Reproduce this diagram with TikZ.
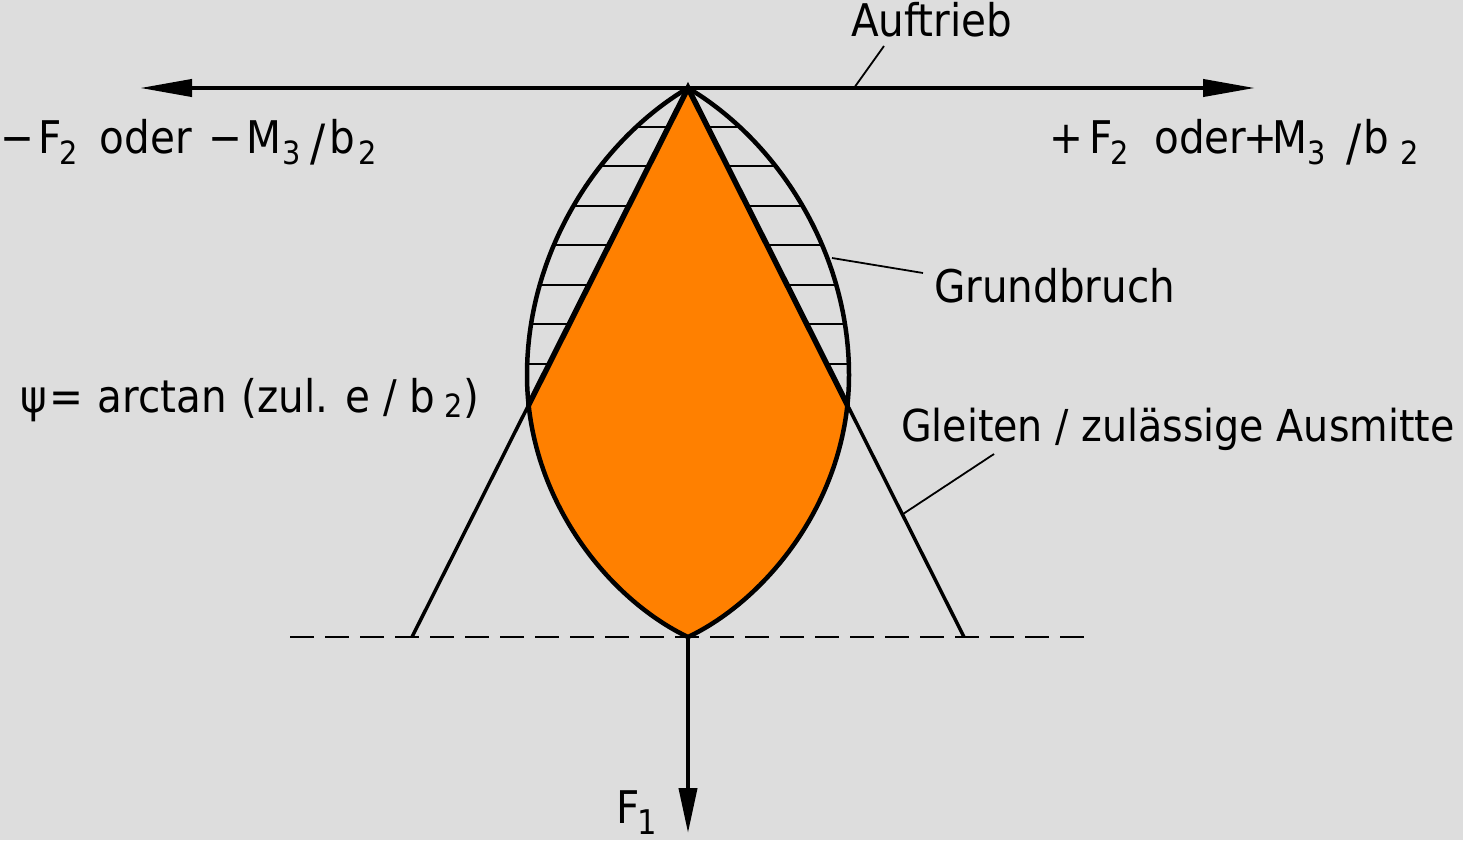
\documentclass[tikz,border=0pt]{standalone}
\usepackage{fontspec}
\setmainfont{DejaVu Sans Condensed}
\usetikzlibrary{arrows.meta}
\definecolor{bg}{HTML}{DDDDDD}
\definecolor{lensorange}{HTML}{FF8000}
\newcommand{\putat}[2]{\makebox[0pt][l]{\hspace*{#1pt}#2}}
\newcommand{\subd}[1]{\raisebox{-12pt}{\fontsize{32}{32}\selectfont #1}}
\newcommand{\bigsl}{\raisebox{-8pt}{\fontsize{50}{50}\selectfont /}}
\begin{document}
\begin{tikzpicture}[x=1pt,y=-1pt,
  lbl/.style={anchor=base west,inner sep=0pt,outer sep=0pt,font=\fontsize{45}{50}\selectfont},
  lensline/.style={line width=4.5pt,line join=round},
  triline/.style={line width=5.5pt,line cap=round},
  triouter/.style={line width=3.5pt},
  hatchline/.style={line width=1.8pt},
  leader/.style={line width=1.8pt},
  dashline/.style={line width=1.5pt,dash pattern=on 24pt off 11pt},
  forcearrow/.style={line width=4pt}]
\useasboundingbox (0,0) rectangle (1463,840);
\fill[bg] (0,0) rectangle (1463,840);

% key points
\coordinate (A) at (688,88);
\coordinate (B) at (688,637);
\coordinate (ML) at (527,375);
\coordinate (MR) at (849,375);
\coordinate (PL) at (528.6,405);
\coordinate (PR) at (847.4,405);
\coordinate (TL) at (412,637);
\coordinate (TR) at (964,637);

% hatching inside the lens
\begin{scope}
  \clip (A) .. controls (600,140) and (527,250) .. (ML)
            .. controls (527,500) and (610,600) .. (B)
            .. controls (766,600) and (849,500) .. (MR)
            .. controls (849,250) and (776,140) .. (A) -- cycle;
  \foreach \yy in {127,166,206,245,285,324,364}
    \draw[hatchline] (500,\yy) -- (880,\yy);
\end{scope}

% orange region: lens clipped by triangle
\begin{scope}
  \clip (A) -- (TL) -- (TR) -- cycle;
  \fill[lensorange] (A) .. controls (600,140) and (527,250) .. (ML)
            .. controls (527,500) and (610,600) .. (B)
            .. controls (766,600) and (849,500) .. (MR)
            .. controls (849,250) and (776,140) .. (A) -- cycle;
\end{scope}

% dashed base line
\coordinate (DL) at (290,637);
\coordinate (DR) at (1085,637);
\draw[dashline] (DL) -- (DR);

% lens outline
\draw[lensline] (A) .. controls (600,140) and (527,250) .. (ML)
            .. controls (527,500) and (610,600) .. (B)
            .. controls (766,600) and (849,500) .. (MR)
            .. controls (849,250) and (776,140) .. (A) -- cycle;

% triangle lines
\draw[triline] (PL) -- (A) -- (PR);
\draw[triouter] (PL) -- (TL);
\draw[triouter] (PR) -- (TR);

% horizontal arrow
\coordinate (HL) at (140,88);
\coordinate (HR) at (1255,88);
\draw[forcearrow,{Triangle[length=52pt,width=17pt]}-{Triangle[length=52pt,width=17pt]}] (HL) -- (HR);

% vertical arrow
\coordinate (VE) at (688,833);
\draw[forcearrow,-{Triangle[length=45pt,width=18pt]}] (B) -- (VE);

% leader lines
\coordinate (auA) at (854,88);
\coordinate (auB) at (884,46);
\draw[leader] (auA) -- (auB);
\coordinate (grA) at (832,258);
\coordinate (grB) at (923,273);
\draw[leader] (grA) -- (grB);
\coordinate (glA) at (903,514);
\coordinate (glB) at (994,454);
\draw[leader] (glA) -- (glB);

% labels
\node[lbl] (auftrieb) at (851,37) {Auftrieb};
\node[lbl] (grundbruch) at (934,302) {Grundbruch};
\node[lbl,font=\fontsize{44}{50}\selectfont] (gleiten) at (901,441) {Gleiten / zulässige Ausmitte};
\node[lbl] (leftlbl) at (0,153) {\putat{0}{−}\putat{38}{F}\putat{59}{\subd{2}}\putat{99.5}{oder}\putat{208}{−}\putat{246}{M}\putat{282}{\subd{3}}\putat{310}{\bigsl}\putat{329}{b}\putat{358}{\subd{2}}};
\node[lbl] (rightlbl) at (1049,153) {\putat{0}{+}\putat{40}{F}\putat{61}{\subd{2}}\putat{105}{oder}\putat{194}{+}\putat{223}{M}\putat{258}{\subd{3}}\putat{297}{\bigsl}\putat{314}{b}\putat{351}{\subd{2}}};
\node[lbl] (psilbl) at (20,412) {\putat{0}{ψ}\putat{29}{=}\putat{77.4}{arctan}\putat{221}{(zul.}\putat{324.6}{e}\putat{363}{/}\putat{389}{b}\putat{424}{\raisebox{-5pt}{\fontsize{32}{32}\selectfont 2}}\putat{443}{)}};
\node[lbl] (fone) at (616,823) {\putat{0}{F}\putat{21}{\raisebox{-11pt}{\fontsize{34}{34}\selectfont 1}}};
\end{tikzpicture}
\end{document}
